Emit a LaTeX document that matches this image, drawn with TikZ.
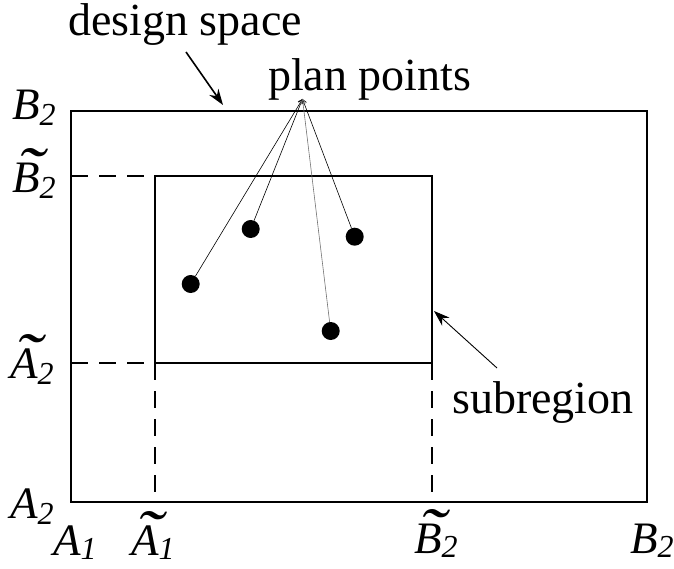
\documentclass[tikz,border=0pt]{standalone}
\usepackage{fontspec}
\usepackage{graphicx}
\setmainfont{Liberation Serif}
\usetikzlibrary{arrows.meta}
\newcommand\mylab[3][-6pt]{\textit{#2}\raisebox{#1}{\fontsize{32}{32}\selectfont\textit{#3}}}
\newcommand\tl[1]{\rlap{\hspace{0.1em}\scalebox{1.8}[1.45]{\symbol{"02DC}}}#1}
\begin{document}
\begin{tikzpicture}[x=1pt,y=-1pt,
  frame/.style={line width=2pt},
  guide/.style={line width=1.8pt, dash pattern=on 17pt off 11pt},
  txt/.style={inner sep=0pt, anchor=base west, font=\fontsize{46}{55}\selectfont},
  lab/.style={inner sep=0pt, anchor=base west, font=\fontsize{45}{50}\selectfont\itshape},
  dot/.style={circle, fill=black, inner sep=0pt, minimum size=18pt},
  pointer/.style={line width=0.6pt, {Straight Barb[length=4pt,width=5pt]}-},
  callout/.style={-{Stealth[length=16pt,width=11pt]}},
]
\useasboundingbox (0,0) rectangle (674,569);

% corners
\coordinate (oTL) at (71,111);
\coordinate (oBR) at (647,502);
\coordinate (iTL) at (155,176);
\coordinate (iBR) at (432,363);
\coordinate (iBL) at (155,363);
\coordinate (iTR) at (432,176);
\coordinate (lTop) at (71,176);
\coordinate (lBot) at (71,363);
\coordinate (bL) at (155,502);
\coordinate (bR) at (432,502);

\draw[frame] (oTL) rectangle (oBR);
\draw[frame] (iTL) rectangle (iBR);
\draw[guide] (lTop) -- (iTL);
\draw[guide] (lBot) -- (iBL);
\draw[guide] (iBL) -- (bL);
\draw[guide] (iBR) -- (bR);

% plan points
\node[dot] (p1) at (190.7,284) {};
\node[dot] (p2) at (250.7,229) {};
\node[dot] (p3) at (354.7,236.7) {};
\node[dot] (p4) at (330.7,331) {};
\node[txt] (pp) at (268,91) {plan points};
\coordinate (apex) at (302.5,99);
\draw[pointer] (apex) -- (p1);
\draw[pointer] (apex) -- (p2);
\draw[pointer] (apex) -- (p3);
\draw[pointer, black!55] (apex) -- (p4);

% design space
\node[txt] (ds) at (68,36) {design space};
\coordinate (dstail) at (186,52);
\coordinate (dstip) at (223,105);
\draw[callout, line width=1.6pt] (dstail) -- (dstip);

% subregion
\node[txt] (sr) at (452,413) {subregion};
\coordinate (srtail) at (497,368);
\coordinate (srtip) at (434,311);
\draw[callout, line width=0.9pt] (srtail) -- (srtip);

% axis labels
\node[lab] (yB) at (12,120) {\mylab{B}{2}};
\node[lab] (yBt) at (12,193) {\mylab{\tl{B}}{2}};
\node[lab] (yAt) at (10,378) {\mylab{\tl{A}}{2}};
\node[lab] (yA) at (10,518) {\mylab{A}{2}};
\node[lab] (xA) at (53,555) {\mylab[-4pt]{A}{1}};
\node[lab] (xAt) at (131,555) {\mylab[-4pt]{\tl{A}}{1}};
\node[lab] (xBt) at (414,553) {\mylab[-4pt]{\tl{B}}{2}};
\node[lab] (xB) at (630,553) {\mylab[-4pt]{B}{2}};
\end{tikzpicture}
\end{document}
